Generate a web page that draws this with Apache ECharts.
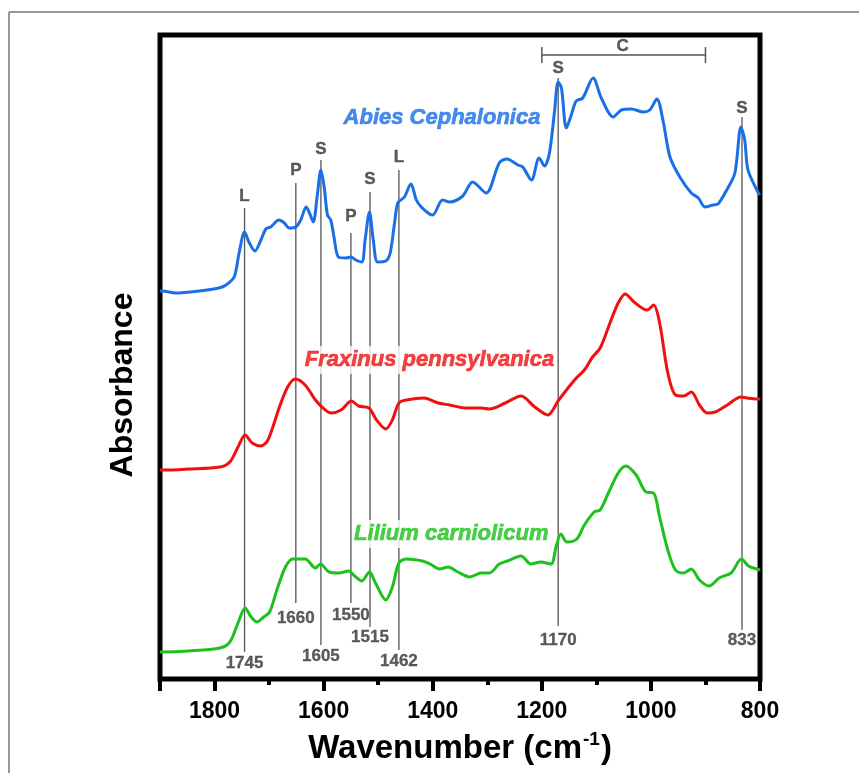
<!DOCTYPE html>
<html>
<head>
<meta charset="utf-8">
<script src="https://cdn.jsdelivr.net/npm/echarts@6/dist/echarts.min.js"></script>
<style>
html,body{margin:0;padding:0;background:#fff;}
#chart{width:859px;height:773px;}
</style>
</head>
<body>
<div id="chart"></div>
<script>
// ---- Data (wavenumber in cm-1, absorbance in arbitrary offset units) ----
const blueWn = [1900,1896,1871,1828,1792,1779,1764,1755,1745,1737,1726,1715,1706,1697,1682,1672,1663,1651,1642,1632,1626,1619,1612,1605,1599,1593,1587,1581,1573,1559,1550,1541,1530,1524,1516,1509,1501,1486,1478,1470,1464,1452,1440,1430,1421,1406,1400,1382,1369,1345,1327,1302,1278,1264,1244,1235,1219,1205,1195,1186,1177,1170,1164,1155,1146,1137,1125,1106,1091,1069,1054,1036,1014,1002,989,978,965,947,926,913,901,886,877,861,846,835,828,822,803,800];
const blueAbs = [388,388,386,388,391,394,402,426,447,437,428,439,450,452,459,456,451,452,459,472,466,457,482,509,492,464,459,442,422,421,422,419,417,439,467,439,417,418,426,456,476,482,495,479,472,465,464,479,477,483,497,486,516,520,514,512,499,521,513,526,566,597,591,551,564,578,581,601,581,562,569,570,567,569,580,559,522,502,486,481,472,474,475,489,506,552,539,509,486,484];

const redWn = [1900,1895,1848,1790,1772,1757,1744,1731,1715,1702,1681,1666,1652,1634,1615,1601,1586,1568,1549,1536,1517,1503,1486,1474,1462,1448,1416,1390,1369,1340,1311,1296,1267,1238,1213,1189,1169,1140,1122,1107,1093,1075,1060,1047,1031,1007,995,984,969,955,940,926,911,897,882,860,835,824,806,800];
const redAbs = [209,209,210,212,217,232,244,236,233,239,272,292,300,294,279,271,266,269,278,273,271,259,250,259,276,279,281,276,274,271,271,270,276,283,272,264,279,299,309,322,331,356,376,385,377,369,374,356,306,284,283,287,274,266,267,274,282,281,280,280];

const greenWn = [1900,1895,1848,1790,1772,1757,1744,1733,1722,1710,1699,1684,1670,1657,1634,1615,1606,1590,1572,1554,1543,1530,1516,1505,1486,1474,1462,1448,1419,1405,1387,1372,1354,1332,1311,1296,1278,1263,1238,1220,1202,1183,1174,1165,1154,1136,1122,1104,1093,1078,1060,1046,1027,1009,995,984,969,955,940,926,911,893,875,853,834,821,806,800];
const greenAbs = [27,27,28,31,37,56,71,62,57,62,67,92,112,120,120,111,115,107,106,108,103,98,107,96,79,92,116,120,118,115,110,112,107,102,106,106,115,118,123,115,117,115,132,145,137,140,154,167,169,186,206,213,204,187,186,162,129,109,106,110,99,93,101,106,120,113,110,109];

const seriesNames = ['Abies Cephalonica', 'Fraxinus pennsylvanica', 'Lilium carniolicum'];
const seriesNameWn = [1383, 1406, 1366];
const seriesNameAbs = [561, 319, 145];

// band assignment lines
const annWn = [1745, 1651, 1605, 1550, 1515, 1462, 1170, 833];
const annNumber = ['1745', '1660', '1605', '1550', '1515', '1462', '1170', '833'];
const annLetter = ['L', 'P', 'S', 'P', 'S', 'L', 'S', 'S'];
const annTop = [471, 496, 519, 446, 487, 509, 601, 562];
const annBottom = [27, 76, 34, 76, 52, 29, 53, 49];
const annLetterAbs = [483, 509, 530, 463, 500, 522, 611, 571];
const annNumberAbs = [16, 61, 23, 64, 42, 18, 39, 39];

// carbohydrate bracket "C"
const bracketWn = [1200, 900];
const bracketAbs = 624;
const bracketLabel = 'C';
const bracketLabelWn = 1052;
const bracketLabelAbs = 633;

const xTicksMajor = 200, xTicksMinor = 100;
const xMin = 800, xMax = 1900;

const colors = ['#1a6fe6', '#f01010', '#1cc21c'];
const FONT = 'Liberation Sans, Arial, sans-serif';

function zip(a, b) { return a.map((v, i) => [v, b[i]]); }

const chart = echarts.init(document.getElementById('chart'), null, {renderer: 'canvas'});

const spectra = [[blueWn, blueAbs], [redWn, redAbs], [greenWn, greenAbs]].map((d, i) => ({
  type: 'line',
  name: seriesNames[i],
  data: zip(d[0], d[1]),
  showSymbol: false,
  smooth: 0.3,
  lineStyle: {color: colors[i], width: 3},
  z: 5,
  silent: true
}));

const option = {
  animation: false,
  backgroundColor: '#fff',
  grid: {left: 160, right: 99, top: 35, bottom: 94, show: true, borderColor: '#000', borderWidth: 5, backgroundColor: 'transparent'},
  graphic: [
    {type: 'line', shape: {x1: 9, y1: 12, x2: 859, y2: 12}, style: {stroke: '#777', lineWidth: 1.5}},
    {type: 'line', shape: {x1: 9, y1: 12, x2: 9, y2: 773}, style: {stroke: '#777', lineWidth: 1.5}}
  ],
  xAxis: [
    {
      type: 'value', min: xMin, max: xMax, interval: xTicksMajor, inverse: true, position: 'bottom',
      axisLine: {show: false},
      axisTick: {show: true, inside: false, length: 12, lineStyle: {color: '#000', width: 4}},
      axisLabel: {margin: 21, color: '#000', fontSize: 23, fontWeight: 'bold', fontFamily: FONT,
        formatter: v => (v === xMax ? '' : String(v))},
      splitLine: {show: false},
      name: '{a|Wavenumber (cm}{b|-1}{a|)}',
      nameLocation: 'middle', nameGap: 51,
      nameTextStyle: {
        rich: {
          a: {fontSize: 33, fontWeight: 'bold', color: '#000', fontFamily: FONT, lineHeight: 38},
          b: {fontSize: 19, fontWeight: 'bold', color: '#000', fontFamily: FONT, verticalAlign: 'top', lineHeight: 19, padding: [0, 1, 0, 1]}
        }
      }
    },
    {
      type: 'value', min: xMin, max: xMax, interval: xTicksMinor, inverse: true, position: 'bottom',
      axisLine: {show: false},
      axisTick: {show: true, inside: false, length: 6, lineStyle: {color: '#000', width: 4}},
      axisLabel: {show: false},
      splitLine: {show: false}
    }
  ],
  yAxis: {
    type: 'value', min: 0, max: 644,
    axisLine: {show: false}, axisTick: {show: false}, axisLabel: {show: false}, splitLine: {show: false},
    name: 'Absorbance', nameLocation: 'middle', nameGap: 21, nameRotate: 90,
    nameTextStyle: {fontSize: 32, fontWeight: 'bold', color: '#000', fontFamily: FONT, padding: [0, 56, 0, 0]}
  },
  series: [
    // assignment lines
    {
      type: 'custom', z: 2, silent: true,
      data: annWn.map((w, i) => [w, annTop[i], annBottom[i]]),
      renderItem: function (params, api) {
        const p1 = api.coord([api.value(0), api.value(1)]);
        const p2 = api.coord([api.value(0), api.value(2)]);
        return {type: 'line', shape: {x1: p1[0], y1: p1[1], x2: p2[0], y2: p2[1]},
          style: {stroke: '#555', lineWidth: 1.3}};
      }
    },
    // bracket C
    {
      type: 'custom', z: 2, silent: true,
      data: [[bracketWn[0], bracketWn[1], bracketAbs]],
      renderItem: function (params, api) {
        const a = api.coord([api.value(0), api.value(2)]);
        const b = api.coord([api.value(1), api.value(2)]);
        const st = {stroke: '#555', lineWidth: 1.5};
        return {type: 'group', children: [
          {type: 'line', shape: {x1: a[0], y1: a[1], x2: b[0], y2: b[1]}, style: st},
          {type: 'line', shape: {x1: a[0], y1: a[1] - 8, x2: a[0], y2: a[1] + 8}, style: st},
          {type: 'line', shape: {x1: b[0], y1: b[1] - 8, x2: b[0], y2: b[1] + 8}, style: st}
        ]};
      }
    },
    ...spectra,
    // letters above the lines
    {
      type: 'scatter', symbolSize: 0, z: 8, silent: true,
      data: annWn.map((w, i) => ({name: annLetter[i], value: [w, annLetterAbs[i]]}))
        .concat([{name: bracketLabel, value: [bracketLabelWn, bracketLabelAbs]}]),
      label: {show: true, position: 'inside', formatter: '{b}', color: '#333', fontSize: 17, fontWeight: 'bold', fontFamily: FONT,
        textBorderColor: '#333', textBorderWidth: 0.4}
    },
    // wavenumbers below the lines
    {
      type: 'scatter', symbolSize: 0, z: 8, silent: true,
      data: annWn.map((w, i) => ({name: annNumber[i], value: [w, annNumberAbs[i]]})),
      label: {show: true, position: 'inside', formatter: '{b}', color: '#333', fontSize: 17, fontWeight: 'bold', fontFamily: FONT,
        textBorderColor: '#333', textBorderWidth: 0.3}
    },
    // sample names
    {
      type: 'scatter', symbolSize: 0, z: 9, silent: true,
      data: seriesNames.map((n, i) => ({
        name: n, value: [seriesNameWn[i], seriesNameAbs[i]],
        label: {color: colors[i], textBorderColor: colors[i], textBorderWidth: 0.6}
      })),
      label: {show: true, position: 'inside', formatter: '{b}', fontSize: 22, fontWeight: 'bold', fontStyle: 'italic',
        fontFamily: FONT, backgroundColor: '#fff', padding: [3, 2]}
    }
  ]
};

chart.setOption(option);
</script>
</body>
</html>
